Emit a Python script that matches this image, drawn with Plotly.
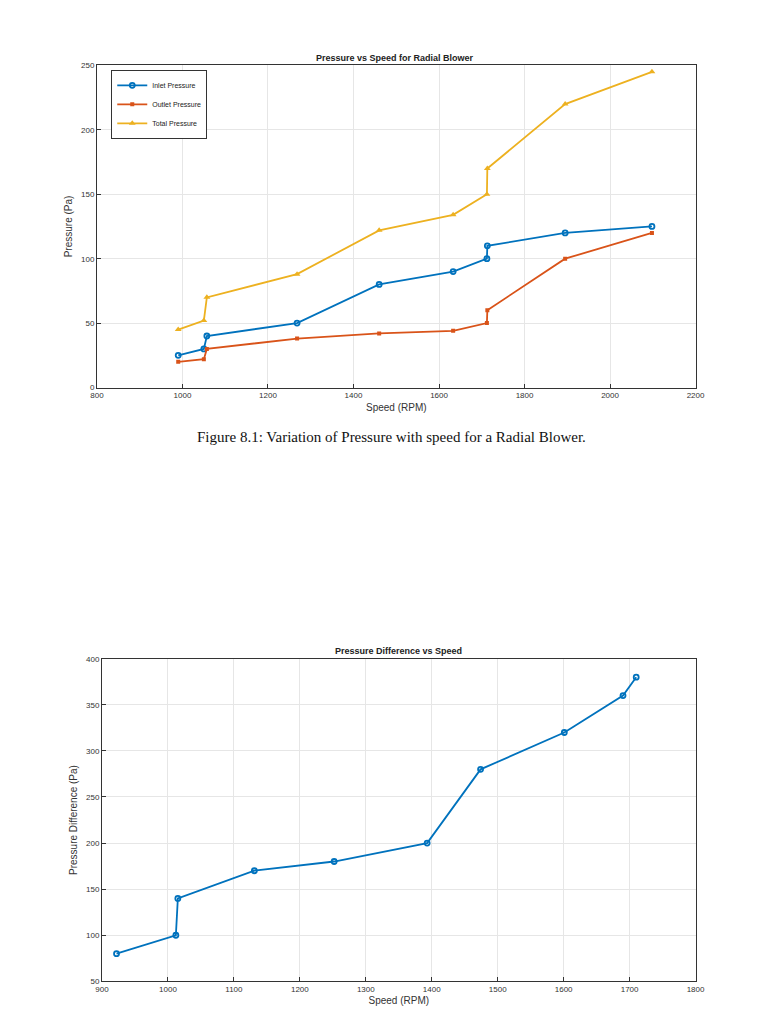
import plotly.graph_objects as go

speed1 = [990, 1050, 1057, 1268, 1460, 1633, 1712, 1713, 1895, 2098]
inlet = [25, 30, 40, 50, 80, 90, 100, 110, 120, 125]
outlet = [20, 22, 30, 38, 42, 44, 50, 60, 100, 120]
total = [45, 52, 70, 88, 122, 134, 150, 170, 220, 245]

speed2 = [922, 1012, 1015, 1131, 1252, 1393, 1474, 1601, 1690, 1710]
pdiff = [80, 100, 140, 170, 180, 200, 280, 320, 360, 380]

blue, orange, yellow = "#0072BD", "#D95319", "#EDB120"
fig = go.Figure()
fig.add_trace(go.Scatter(x=speed1, y=inlet, name="Inlet Pressure", mode="lines+markers",
    line=dict(color=blue, width=1.8), marker=dict(symbol="circle-open", size=5, line=dict(width=1.8)), xaxis="x", yaxis="y"))
fig.add_trace(go.Scatter(x=speed1, y=outlet, name="Outlet Pressure", mode="lines+markers",
    line=dict(color=orange, width=1.8), marker=dict(symbol="square", size=4), xaxis="x", yaxis="y"))
fig.add_trace(go.Scatter(x=speed1, y=total, name="Total Pressure", mode="lines+markers",
    line=dict(color=yellow, width=1.8), marker=dict(symbol="triangle-up", size=6), xaxis="x", yaxis="y"))
fig.add_trace(go.Scatter(x=speed2, y=pdiff, name="Pressure Difference", mode="lines+markers", showlegend=False,
    line=dict(color=blue, width=1.8), marker=dict(symbol="circle-open", size=5, line=dict(width=1.8)), xaxis="x2", yaxis="y2"))

ax = dict(showgrid=True, gridcolor="#e6e6e6", showline=True, linecolor="#333", mirror=True,
          ticks="inside", ticklen=4, tickcolor="#333", zeroline=False, tickfont=dict(size=8, color="#333"),
          title_font=dict(size=10, color="#333"))
fig.update_layout(
    width=768, height=1024, margin=dict(l=0, r=0, t=0, b=0),
    paper_bgcolor="white", plot_bgcolor="white", font=dict(family="Liberation Sans"),
    xaxis=dict(ax, domain=[0.109, 0.905], range=[800, 2200], dtick=200, anchor="y", title=dict(text="Speed (RPM)", standoff=4)),
    yaxis=dict(ax, domain=[0.630, 0.9474], range=[0, 250], dtick=50, anchor="x", title=dict(text="Pressure (Pa)", standoff=6)),
    xaxis2=dict(ax, domain=[0.1157, 0.905], range=[900, 1800], dtick=100, anchor="y2", title=dict(text="Speed (RPM)", standoff=4)),
    yaxis2=dict(ax, domain=[0.045, 0.3628], range=[50, 400], dtick=50, anchor="x2", title=dict(text="Pressure Difference (Pa)", standoff=6)),
    legend=dict(x=0.128, y=0.943, xanchor="left", yanchor="top", bordercolor="#333", borderwidth=1,
                font=dict(size=7, color="#222"), bgcolor="white", tracegroupgap=0, itemwidth=30),
    annotations=[
        dict(text="<b>Pressure vs Speed for Radial Blower</b>", x=0.505, y=0.948, xref="paper", yref="paper",
             xanchor="center", yanchor="bottom", showarrow=False, font=dict(size=9, color="#222")),
        dict(text="<b>Pressure Difference vs Speed</b>", x=0.51, y=0.3635, xref="paper", yref="paper",
             xanchor="center", yanchor="bottom", showarrow=False, font=dict(size=9, color="#222")),
        dict(text="Figure 8.1: Variation of Pressure with speed for a Radial Blower.", x=0.5, y=0.581,
             xref="paper", yref="paper", xanchor="center", yanchor="middle", showarrow=False,
             font=dict(size=15, family="Liberation Serif", color="#111")),
    ],
)
fig.write_html("out.html")
